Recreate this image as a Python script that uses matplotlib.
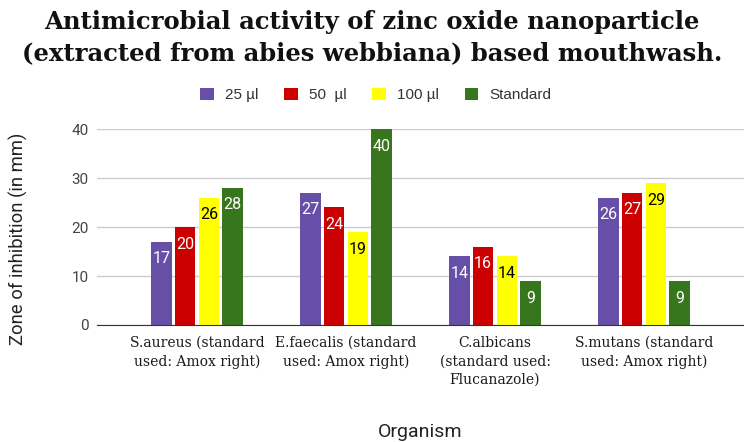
import matplotlib
matplotlib.use('Agg')
import matplotlib.pyplot as plt
import numpy as np

# Dane
organizmy = ['S.aureus (standard\nused: Amox right)',
             'E.faecalis (standard\nused: Amox right)',
             'C.albicans\n(standard used:\nFlucanazole)',
             'S.mutans (standard\nused: Amox right)']
serie = ['25 µl', '50  µl', '100 µl', 'Standard']
v25 = [17, 27, 14, 26]
v50 = [20, 24, 16, 27]
v100 = [26, 19, 14, 29]
vstd = [28, 40, 9, 9]
kolory = ['#674ea7', '#cc0000', '#ffff00', '#38761d']
kolory_tekstu = ['white', 'white', 'black', 'white']

fig = plt.figure(figsize=(7.44, 4.42), dpi=100)
ax = fig.add_axes([97/744, 117/442, 647/744, 196/442])

x = np.arange(len(organizmy))
szer = 0.135
krok = 0.159
wartosci = [v25, v50, v100, vstd]
for i, (vals, kol, kt, nazwa) in enumerate(zip(wartosci, kolory, kolory_tekstu, serie)):
    pos = x + (i - 1.5) * krok
    ax.bar(pos, vals, width=szer, color=kol, label=nazwa, zorder=3)
    for p, v in zip(pos, vals):
        ax.text(p, v - 3.5, str(v), ha='center', va='center', color=kt,
                fontsize=11.5, family='Roboto', zorder=4, clip_on=False)

ax.set_xlim(-0.671, 3.671)
ax.set_ylim(0, 40)
ax.set_yticks([0, 10, 20, 30, 40])
ax.yaxis.grid(True, color='#cccccc', linewidth=1, zorder=0)
ax.tick_params(axis='y', length=0, pad=6, labelsize=11, labelcolor='#444444')
for t in ax.get_yticklabels():
    t.set_family('Roboto')
ax.set_xticks(x)
ax.set_xticklabels(organizmy, family='DejaVu Serif', fontsize=10, color='#1a1a1a',
                   linespacing=1.4)
ax.tick_params(axis='x', length=0, pad=8)
for s in ['top', 'right', 'left']:
    ax.spines[s].set_visible(False)
ax.spines['bottom'].set_color('#333333')
ax.spines['bottom'].set_zorder(5)

ax.set_ylabel('Zone of inhibition (in mm)', family='Roboto', fontsize=13.3, color='#222222')
ax.yaxis.set_label_coords(-0.107, 0.44)
fig.text(0.565, 0.003, 'Organism', family='Roboto', fontsize=14, color='#222222',
         ha='center', va='bottom')

fig.text(0.5, 0.978, 'Antimicrobial activity of zinc oxide nanoparticle\n(extracted from abies webbiana) based mouthwash.',
         ha='center', va='top', family='DejaVu Serif', fontweight='bold', fontsize=17.5,
         linespacing=1.4, color='#111111')

fig.legend(loc='center', bbox_to_anchor=(0.505, 1 - 95/442), ncol=4, frameon=False,
           prop={'family': 'Liberation Sans', 'size': 11}, handlelength=0.9,
           handleheight=0.9, columnspacing=1.7, handletextpad=0.7, labelcolor='#333333')

plt.savefig('out.png', dpi=100)
